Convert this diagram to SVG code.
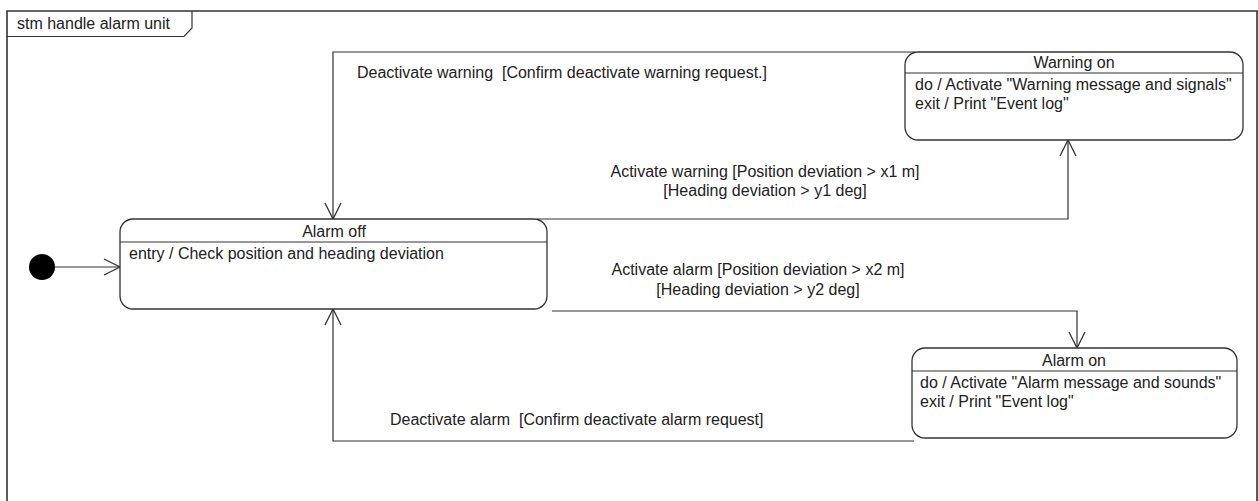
<svg xmlns="http://www.w3.org/2000/svg" width="1258" height="501" viewBox="0 0 1258 501">
<style>
text{font-family:"Liberation Sans",Arial,sans-serif;font-size:16px;fill:#222;white-space:pre}
.st{fill:#fff;stroke:#333;stroke-width:1.3}
.dv{stroke:#333;stroke-width:1.2}
.c{fill:none;stroke:#333;stroke-width:1.2}
.m{text-anchor:middle}
</style>
<defs>
<marker id="open" viewBox="0 0 20 20" refX="17" refY="10" markerWidth="20" markerHeight="20" markerUnits="userSpaceOnUse" orient="auto">
<path d="M1,2 L17,10 L1,18" fill="none" stroke="#333" stroke-width="1.3"/>
</marker>
</defs>
<rect width="1258" height="501" fill="#fff"/>
<g id="frame">
<path d="M7,520 L7,11 L1257,11 L1257,520" fill="none" stroke="#333" stroke-width="1.6"/>
<path d="M7,36.5 L184,36.5 L192,28 L192,11" fill="none" stroke="#333" stroke-width="1.2"/>
<text x="17" y="29">stm handle alarm unit</text>
</g>
<g id="connectors">
<path class="c" d="M915,52 L333,52 L333,219" marker-end="url(#open)"/>
<path class="c" d="M537,219 L1068,219 L1068,140" marker-end="url(#open)"/>
<path class="c" d="M552,311 L1077,311 L1077,348" marker-end="url(#open)"/>
<path class="c" d="M914,441 L333,441 L333,309" marker-end="url(#open)"/>
<path class="c" d="M55,267 L120,267" marker-end="url(#open)"/>
<text xml:space="preserve" x="357" y="78">Deactivate warning  [Confirm deactivate warning request.]</text>
<text class="m" x="765" y="177">Activate warning [Position deviation &gt; x1 m]</text>
<text class="m" x="765" y="196">[Heading deviation &gt; y1 deg]</text>
<text class="m" x="758" y="275">Activate alarm [Position deviation &gt; x2 m]</text>
<text class="m" x="758" y="295">[Heading deviation &gt; y2 deg]</text>
<text xml:space="preserve" x="390" y="425">Deactivate alarm  [Confirm deactivate alarm request]</text>
</g>
<g id="initial">
<circle cx="42" cy="267" r="13" fill="#000"/>
</g>
<g id="alarm-off">
<rect class="st" x="120" y="219" width="427" height="90" rx="13"/>
<line class="dv" x1="120" y1="242" x2="547" y2="242"/>
<text class="m" x="334" y="237">Alarm off</text>
<text x="129" y="259">entry / Check position and heading deviation</text>
</g>
<g id="warning-on">
<rect class="st" x="905" y="52" width="338" height="88" rx="13"/>
<line class="dv" x1="905" y1="73" x2="1243" y2="73"/>
<text class="m" x="1074" y="68">Warning on</text>
<text x="915" y="90">do / Activate "Warning message and signals"</text>
<text x="915" y="109">exit / Print "Event log"</text>
</g>
<g id="alarm-on">
<rect class="st" x="912" y="348" width="325" height="90" rx="13"/>
<line class="dv" x1="912" y1="371" x2="1237" y2="371"/>
<text class="m" x="1074" y="366">Alarm on</text>
<text x="920" y="388">do / Activate "Alarm message and sounds"</text>
<text x="920" y="407">exit / Print "Event log"</text>
</g>
</svg>
